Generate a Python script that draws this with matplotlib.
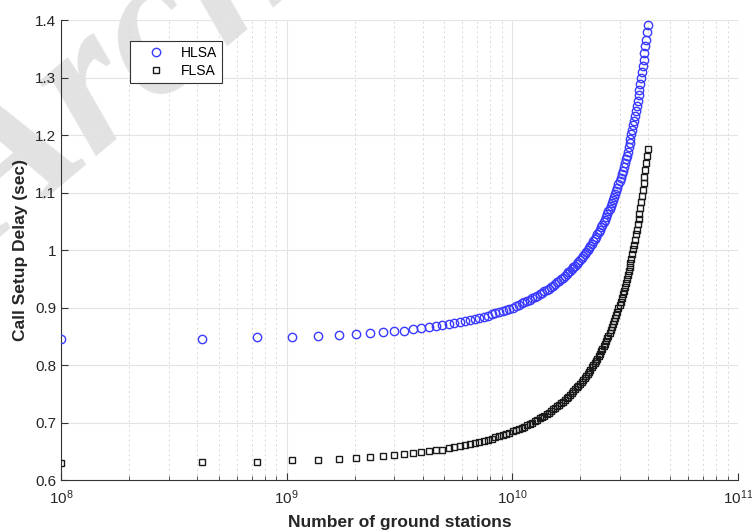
import matplotlib
matplotlib.use("Agg")
import matplotlib.pyplot as plt
from matplotlib.ticker import LogLocator, NullFormatter

# number of ground stations, in units of 1e8
stations = [1, 4.2, 7.4, 10.6, 13.8, 17, 20.2, 23.4, 26.6, 29.8,
            33, 36.2, 39.4, 42.6, 45.8, 49, 52.2, 55.4, 58.6, 61.8,
            65, 68.2, 71.4, 74.6, 77.8, 81, 84.2, 87.4, 90.6, 93.8,
            97, 100.2, 103.4, 106.6, 109.8, 113, 116.2, 119.4, 122.6, 125.8,
            129, 132.2, 135.4, 138.6, 141.8, 145, 148.2, 151.4, 154.6, 157.8,
            161, 164.2, 167.4, 170.6, 173.8, 177, 180.2, 183.4, 186.6, 189.8,
            193, 196.2, 199.4, 202.6, 205.8, 209, 212.2, 215.4, 218.6, 221.8,
            225, 228.2, 231.4, 234.6, 237.8, 241, 244.2, 247.4, 250.6, 253.8,
            257, 260.2, 263.4, 266.6, 269.8, 273, 276.2, 279.4, 282.6, 285.8,
            289, 292.2, 295.4, 298.6, 301.8, 305, 308.2, 311.4, 314.6, 317.8,
            321, 324.2, 327.4, 330.6, 333.8, 337, 340.2, 343.4, 346.6, 349.8,
            353, 356.2, 359.4, 362.6, 365.8, 369, 372.2, 375.4, 378.6, 381.8,
            385, 388.2, 391.4, 394.6, 397.8]

hlsa = [0.845, 0.846, 0.848, 0.849, 0.851, 0.852, 0.854, 0.856, 0.857, 0.859,
        0.860, 0.862, 0.864, 0.866, 0.867, 0.869, 0.871, 0.873, 0.874, 0.876,
        0.878, 0.880, 0.882, 0.884, 0.886, 0.888, 0.890, 0.892, 0.894, 0.896,
        0.898, 0.900, 0.902, 0.904, 0.907, 0.909, 0.911, 0.913, 0.916, 0.918,
        0.920, 0.923, 0.925, 0.928, 0.930, 0.933, 0.936, 0.938, 0.941, 0.944,
        0.946, 0.949, 0.952, 0.955, 0.958, 0.961, 0.964, 0.967, 0.970, 0.973,
        0.976, 0.979, 0.983, 0.986, 0.990, 0.993, 0.997, 1.000, 1.004, 1.007,
        1.011, 1.015, 1.019, 1.023, 1.027, 1.031, 1.035, 1.040, 1.044, 1.048,
        1.053, 1.057, 1.062, 1.067, 1.072, 1.077, 1.082, 1.087, 1.092, 1.097,
        1.103, 1.108, 1.114, 1.120, 1.126, 1.132, 1.138, 1.145, 1.151, 1.158,
        1.164, 1.171, 1.179, 1.186, 1.193, 1.201, 1.209, 1.217, 1.225, 1.233,
        1.242, 1.251, 1.260, 1.269, 1.279, 1.289, 1.299, 1.309, 1.320, 1.331,
        1.343, 1.354, 1.366, 1.379, 1.392]

flsa = [0.629, 0.631, 0.632, 0.634, 0.635, 0.637, 0.638, 0.640, 0.642, 0.643,
        0.645, 0.647, 0.648, 0.650, 0.652, 0.653, 0.655, 0.657, 0.659, 0.661,
        0.663, 0.664, 0.666, 0.668, 0.670, 0.672, 0.674, 0.676, 0.678, 0.680,
        0.682, 0.685, 0.687, 0.689, 0.691, 0.693, 0.696, 0.698, 0.700, 0.703,
        0.705, 0.707, 0.710, 0.712, 0.715, 0.717, 0.720, 0.723, 0.725, 0.728,
        0.731, 0.734, 0.736, 0.739, 0.742, 0.745, 0.748, 0.751, 0.754, 0.758,
        0.761, 0.764, 0.767, 0.771, 0.774, 0.778, 0.781, 0.785, 0.788, 0.792,
        0.796, 0.800, 0.803, 0.807, 0.811, 0.816, 0.820, 0.824, 0.828, 0.833,
        0.837, 0.842, 0.847, 0.851, 0.856, 0.861, 0.866, 0.871, 0.877, 0.882,
        0.887, 0.893, 0.899, 0.904, 0.910, 0.917, 0.923, 0.929, 0.936, 0.942,
        0.949, 0.956, 0.963, 0.970, 0.978, 0.985, 0.993, 1.001, 1.009, 1.018,
        1.027, 1.035, 1.045, 1.054, 1.063, 1.073, 1.084, 1.094, 1.105, 1.116,
        1.127, 1.139, 1.151, 1.163, 1.176]

yticks = [0.6, 0.7, 0.8, 0.9, 1.0, 1.1, 1.2, 1.3, 1.4]
ytick_labels = ["0.6", "0.7", "0.8", "0.9", "1", "1.1", "1.2", "1.3", "1.4"]

plt.rcParams['font.family'] = ['Liberation Sans', 'DejaVu Sans']

fig = plt.figure(figsize=(7.52, 5.32), dpi=100)
ax = fig.add_axes([0.0811, 0.0977, 0.9003, 0.8647])
ax.patch.set_alpha(0)

# faint watermark, kept under the data and the legend
ax.text(-0.011, 0.524, "Archive of SID", transform=fig.transFigure,
        rotation=40, rotation_mode='anchor', ha='left', va='baseline',
        fontsize=148, family='Liberation Serif',
        style='italic', weight='bold', color='#e2e2e2',
        zorder=0.1, clip_on=False)

x = [s * 1e8 for s in stations]
ax.plot(x, hlsa, 'o', markersize=6, markerfacecolor='none',
        markeredgecolor='#3a3aff', markeredgewidth=1.0, label='HLSA',
        zorder=3)
ax.plot(x, flsa, 's', markersize=4.8, markerfacecolor='none',
        markeredgecolor='#1a1a1a', markeredgewidth=1.0, label='FLSA',
        zorder=3)

ax.set_xscale('log')
ax.set_xlim(1e8, 1e11)
ax.set_ylim(0.6, 1.4)
ax.set_yticks(yticks)
ax.set_yticklabels(ytick_labels)
ax.xaxis.set_minor_locator(LogLocator(base=10, subs=range(2, 10)))
ax.xaxis.set_minor_formatter(NullFormatter())

ax.grid(True, which='major', color='#e3e3e3', linewidth=0.8, linestyle='-')
ax.grid(True, which='minor', axis='x', color='#d8d8d8', linewidth=0.7,
        linestyle=(0, (2, 3)))
ax.set_axisbelow(True)

for side in ['top', 'right']:
    ax.spines[side].set_visible(False)
for side in ['left', 'bottom']:
    ax.spines[side].set_color('#333333')
    ax.spines[side].set_linewidth(0.8)

ax.tick_params(which='both', direction='in', colors='#333333',
               labelcolor='#262626', labelsize=11)
ax.tick_params(which='major', length=5)
ax.tick_params(which='minor', length=3)
ax.tick_params(axis='x', pad=6)

ax.set_xlabel("Number of ground stations", fontsize=12.5, weight='bold',
              color='#262626', labelpad=6)
ax.set_ylabel("Call Setup Delay (sec)", fontsize=12.5, weight='bold',
              color='#262626', labelpad=5)

leg = ax.legend(loc='upper left', bbox_to_anchor=(0.102, 0.955),
                borderaxespad=0, fontsize=10, frameon=True, fancybox=False,
                framealpha=1, handletextpad=0.3, borderpad=0.35,
                labelspacing=0.3, handlelength=3.0)
leg.get_frame().set_edgecolor('#333333')
leg.get_frame().set_linewidth(0.8)
leg.set_zorder(5)

fig.savefig('out.png', dpi=100)
